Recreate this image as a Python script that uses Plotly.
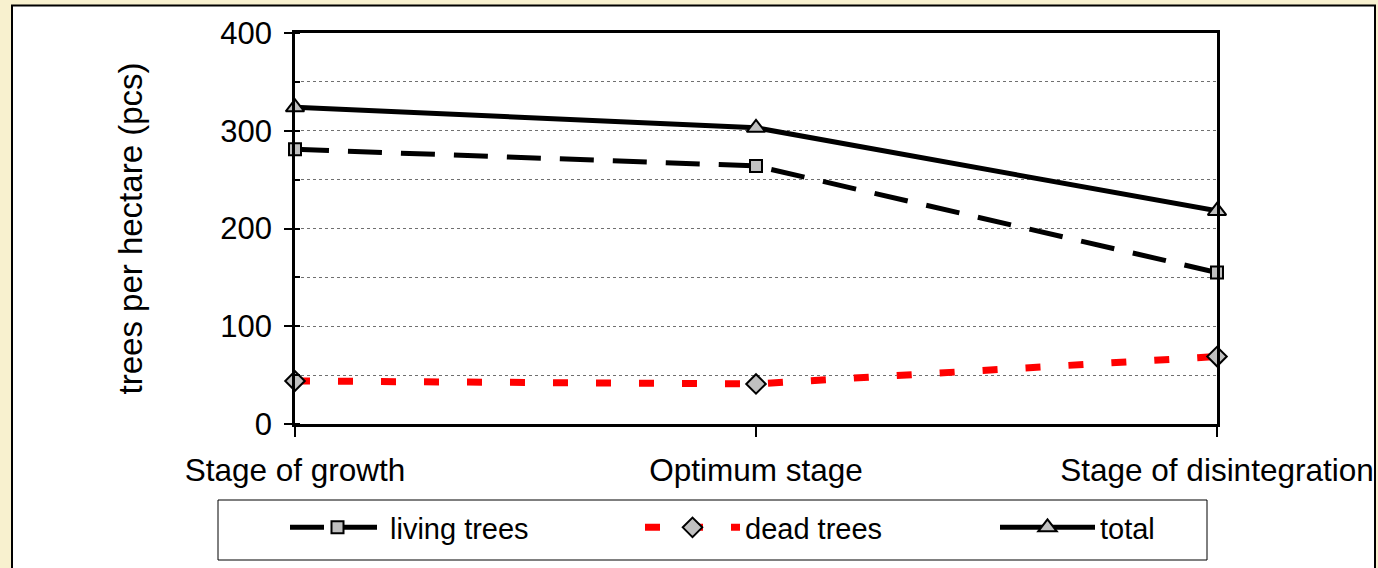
import plotly.graph_objects as go

# Stand development stages and tree counts per hectare
stages = ["Stage of growth", "Optimum stage", "Stage of disintegration"]
living_trees = [281, 264, 155]
dead_trees = [44, 41, 69]
total_trees = [324, 303, 218]

FONT = "Liberation Sans, Arial, sans-serif"
W, H = 1378, 568
L, R, T, B = 295, 161, 33, 144
PW, PH = W - L - R, H - T - B


def px_x(px):
    return (px - L) / PW


def px_y(py):
    return (H - B - py) / PH


marker_line = dict(color="black", width=2)

fig = go.Figure()
fig.add_trace(go.Scatter(
    x=stages, y=living_trees, name="living trees", mode="lines+markers",
    line=dict(color="black", width=5, dash="34px,19px"),
    marker=dict(symbol="square", size=12, color="#c0c0c0", line=marker_line),
    cliponaxis=False,
))
fig.add_trace(go.Scatter(
    x=stages, y=dead_trees, name="dead trees", mode="lines+markers",
    line=dict(color="#ff0000", width=7, dash="15px,28px"),
    marker=dict(symbol="diamond", size=15, color="#c0c0c0", line=marker_line),
    cliponaxis=False,
))
fig.add_trace(go.Scatter(
    x=stages, y=total_trees, name="total", mode="lines+markers",
    line=dict(color="black", width=5),
    marker=dict(symbol="triangle-up", size=16, color="#c0c0c0", line=marker_line),
    cliponaxis=False,
))

# white chart panel with dark frame on the cream page
fig.add_shape(type="rect", xref="paper", yref="paper",
              x0=px_x(12), x1=px_x(1375), y0=px_y(5.5), y1=px_y(600),
              line=dict(color="black", width=2), fillcolor="white", layer="below")
# legend frame
fig.add_shape(type="rect", xref="paper", yref="paper",
              x0=px_x(218), x1=px_x(1207), y0=px_y(500), y1=px_y(560),
              line=dict(color="black", width=1), fillcolor="rgba(0,0,0,0)")

fig.update_layout(
    width=W, height=H,
    margin=dict(l=L, r=R, t=T, b=B, autoexpand=False),
    paper_bgcolor="#f8f1cf",
    plot_bgcolor="white",
    font=dict(family=FONT, size=29, color="black"),
    showlegend=True,
    legend=dict(
        orientation="h", x=px_x(285), y=px_y(502), xanchor="left", yanchor="top",
        bgcolor="rgba(0,0,0,0)", borderwidth=0,
        itemwidth=95, entrywidth=245, entrywidthmode="pixels",
        font=dict(family=FONT, size=29, color="black"),
    ),
    xaxis=dict(
        type="category", range=[0, 2], showgrid=False,
        showline=True, linecolor="black", linewidth=2.5, mirror=True,
        ticks="outside", ticklen=10, tickwidth=1.5, tickcolor="black",
        tickfont=dict(size=31.5), ticklabelstandoff=6,
    ),
    yaxis=dict(
        range=[0, 400], dtick=100, tick0=0,
        showline=True, linecolor="black", linewidth=2.5, mirror=True,
        showgrid=True, gridcolor="#707070", gridwidth=1, griddash="dot",
        zeroline=False,
        ticks="outside", ticklen=8, tickwidth=1.5, tickcolor="black",
        tickfont=dict(size=31), ticklabelstandoff=6,
        minor=dict(dtick=50, showgrid=True, gridcolor="#707070", gridwidth=1,
                   griddash="dot", ticks="inside", ticklen=5, tickcolor="black",
                   tickwidth=1.5),
        title=dict(text="trees per hectare (pcs)", standoff=68,
                   font=dict(size=33)),
    ),
)

fig.write_html("out.html")
